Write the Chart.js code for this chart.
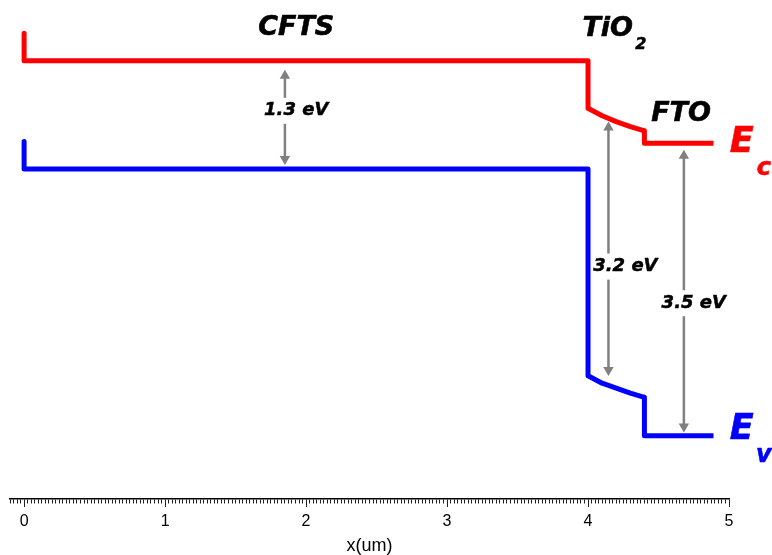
<!DOCTYPE html>
<html>
<head>
<meta charset="utf-8">
<script src="https://cdn.jsdelivr.net/npm/chart.js@4"></script>
<style>
  body { margin: 0; background: #fff; }
  #wrap { width: 772px; height: 555px; }
</style>
</head>
<body>
<div id="wrap"><canvas id="myChart"></canvas></div>
<script>
// band edges, x in um, y in eV
const ecX = [0, 0, 4.0, 4.0, 4.1, 4.2, 4.3, 4.4, 4.4, 4.89];
const ecY = [0.33, 0, 0, -0.57, -0.66, -0.73, -0.79, -0.84, -0.99, -0.99];
const evX = [0, 0, 4.0, 4.0, 4.1, 4.2, 4.3, 4.4, 4.4, 4.89];
const evY = [-0.97, -1.3, -1.3, -3.78, -3.87, -3.93, -3.99, -4.04, -4.5, -4.5];

// gap arrows: x, top, bottom
const arrowX = [1.85, 4.145, 4.68];
const arrowTop = [-0.18, -0.8, -1.14];
const arrowBottom = [-1.18, -3.71, -4.39];
const gapLabels = ["1.3 eV", "3.2 eV", "3.5 eV"];

const tickLabels = ["0", "1", "2", "3", "4", "5"];

const ctx = document.getElementById("myChart");

function pts(xs, ys) {
  return xs.map((x, i) => ({ x: x, y: ys[i] }));
}

const datasets = [
  {
    label: "Ec",
    data: pts(ecX, ecY),
    borderColor: "#ff0000",
    borderWidth: 5,
    borderJoinStyle: "round",
    pointRadius: 0,
    order: 2,
  },
  {
    label: "Ev",
    data: pts(evX, evY),
    borderColor: "#0000ff",
    borderWidth: 5,
    borderJoinStyle: "round",
    pointRadius: 0,
    order: 2,
  },
];
arrowX.forEach((x, i) => {
  datasets.push({
    label: gapLabels[i],
    data: [{ x: x, y: arrowTop[i] }, { x: x, y: arrowBottom[i] }],
    borderColor: "#808080",
    backgroundColor: "#808080",
    borderWidth: 2.5,
    pointStyle: "triangle",
    pointRadius: 6,
    pointRotation: [0, 180],
    pointBorderWidth: 0,
    order: 1,
  });
});

// text placed in data units
const FAM = "'DejaVu Sans'";
const notes = [
  { t: "CFTS", x: 1.93, y: 0.39, size: 27, color: "#000" },
  { t: "TiO", x: 4.14, y: 0.38, size: 27, color: "#000" },
  { t: "2", x: 4.375, y: 0.19, size: 16, color: "#000" },
  { t: "FTO", x: 4.66, y: -0.635, size: 27, color: "#000" },
  { t: gapLabels[0], x: 1.93, y: -0.6, size: 18, color: "#000", bg: true },
  { t: gapLabels[1], x: 4.265, y: -2.47, size: 18, color: "#000", bg: true },
  { t: gapLabels[2], x: 4.75, y: -2.91, size: 18, color: "#000", bg: true },
  { t: "E", x: 5.091, y: -0.99, size: 35, color: "#ff0000" },
  { t: "c", x: 5.247, y: -1.29, size: 24, color: "#ff0000" },
  { t: "E", x: 5.091, y: -4.43, size: 35, color: "#0000ff" },
  { t: "v", x: 5.247, y: -4.745, size: 24, color: "#0000ff" },
];

const notePlugin = {
  id: "notes",
  afterDatasetsDraw(chart) {
    const c = chart.ctx;
    const xs = chart.scales.x;
    const ys = chart.scales.y;
    c.save();
    c.textAlign = "center";
    c.textBaseline = "middle";
    c.lineJoin = "round";
    notes.forEach((n) => {
      const px = xs.getPixelForValue(n.x);
      const py = ys.getPixelForValue(n.y);
      c.font = "italic bold " + n.size + "px " + FAM;
      if (n.bg) {
        const w = c.measureText(n.t).width;
        c.fillStyle = "#fff";
        c.fillRect(px - w / 2 - 2, py - 13, w + 4, 26);
      }
      c.fillStyle = n.color;
      c.strokeStyle = n.color;
      c.lineWidth = n.size > 20 ? 0.6 : 0.5;
      c.fillText(n.t, px, py);
      c.strokeText(n.t, px, py);
    });
    c.restore();
  },
};

const chart = new Chart(ctx, {
  type: "line",
  data: { datasets: datasets },
  options: {
    responsive: true,
    maintainAspectRatio: false,
    animation: false,
    layout: { padding: { left: 10, right: 43, top: 10, bottom: 0 } },
    plugins: {
      legend: { display: false },
      tooltip: { enabled: false },
    },
    scales: {
      x: {
        type: "linear",
        position: "bottom",
        min: -0.1,
        max: 5,
        border: { color: "#000", width: 1.5 },
        grid: {
          drawOnChartArea: false,
          tickLength: 8,
          tickColor: "#222",
          tickWidth: 1,
          tickBorderDash: (c) => {
            const v = c.tick ? c.tick.value : 0;
            return Math.abs(v - Math.round(v)) < 1e-6 ? [] : [4, 20];
          },
        },
        ticks: {
          stepSize: 0.025,
          autoSkip: false,
          maxRotation: 0,
          padding: 7,
          color: "#000",
          font: { family: "'Liberation Sans', Arial", size: 16, lineHeight: 1 },
          callback: (v) => {
            const r = Math.round(v);
            return Math.abs(v - r) < 1e-6 && r >= 0 ? tickLabels[r] : "";
          },
        },
        title: {
          display: true,
          text: "x(um)",
          color: "#000",
          font: { family: "'Liberation Sans', Arial", size: 18, lineHeight: 1 },
          padding: { top: 0, bottom: 0 },
        },
      },
      y: {
        display: false,
        min: -5.26,
        max: 0.61,
      },
    },
  },
  plugins: [notePlugin],
});
</script>
</body>
</html>
